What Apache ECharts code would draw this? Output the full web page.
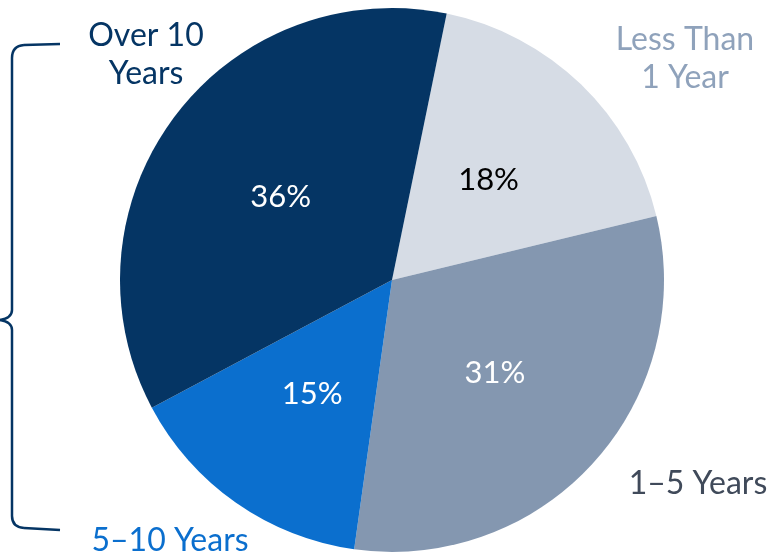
<!DOCTYPE html>
<html><head><meta charset="utf-8">
<script src="https://cdn.jsdelivr.net/npm/echarts@6/dist/echarts.min.js"></script>
<style>html,body{margin:0;padding:0;background:#fff}#c{width:778px;height:555px}</style>
</head><body><div id="c"></div>
<script>
const categories = ['Less Than 1 Year', '1–5 Years', '5–10 Years', 'Over 10 Years'];
const values = [18, 31, 15, 36];
const sliceColors = ['#d6dce5', '#8497b0', '#0b6fce', '#053564'];
const insideLabelColors = ['#000000', '#ffffff', '#ffffff', '#ffffff'];
const outerLabelLines = [['Less Than', '1 Year'], ['1–5 Years'], ['5–10 Years'], ['Over 10', 'Years']];
const outerLabelColors = ['#8fa2bb', '#404a5a', '#0b6fce', '#053564'];
const outerLabelPos = [[685, 21], [698, 465], [170, 522], [146, 17]];

const FONT = 'Lato, "Open Sans", sans-serif';
const chart = echarts.init(document.getElementById('c'), null, {renderer: 'canvas'});
const graphics = categories.map((c, i) => ({
  type: 'text', x: outerLabelPos[i][0], y: outerLabelPos[i][1],
  style: {text: outerLabelLines[i].join('\n'), fill: outerLabelColors[i], font: '32px ' + FONT,
    align: 'center', verticalAlign: 'top', lineHeight: 38}
}));
const braceStyle = {stroke: '#053564', lineWidth: 2.5, fill: 'none'};
const braceLines = [[60,44,24,45],[12,58,12,310],[12,330,12,516],[24,528,60,530]];
braceLines.forEach(l => graphics.push({type: 'line', shape: {x1: l[0], y1: l[1], x2: l[2], y2: l[3]}, style: braceStyle}));
const braceCurves = [[24,45,12,46,12,58],[12,310,12,318,0,320],[0,320,12,322,12,330],[12,516,12,527,24,528]];
braceCurves.forEach(c => graphics.push({type: 'bezierCurve', shape: {x1: c[0], y1: c[1], cpx1: c[2], cpy1: c[3], x2: c[4], y2: c[5]}, style: braceStyle}));

chart.setOption({
  animation: false,
  graphic: {elements: graphics},
  series: [{
    type: 'pie', center: [392, 280], radius: 272, startAngle: 78.4, clockwise: true,
    data: categories.map((c, i) => ({name: c, value: values[i],
      itemStyle: {color: sliceColors[i]},
      label: {color: insideLabelColors[i]}})),
    label: {show: true, position: 'inside', formatter: '{c}%', fontSize: 31, fontFamily: FONT},
    labelLine: {show: false},
    itemStyle: {borderWidth: 0}
  }]
});
</script></body></html>
